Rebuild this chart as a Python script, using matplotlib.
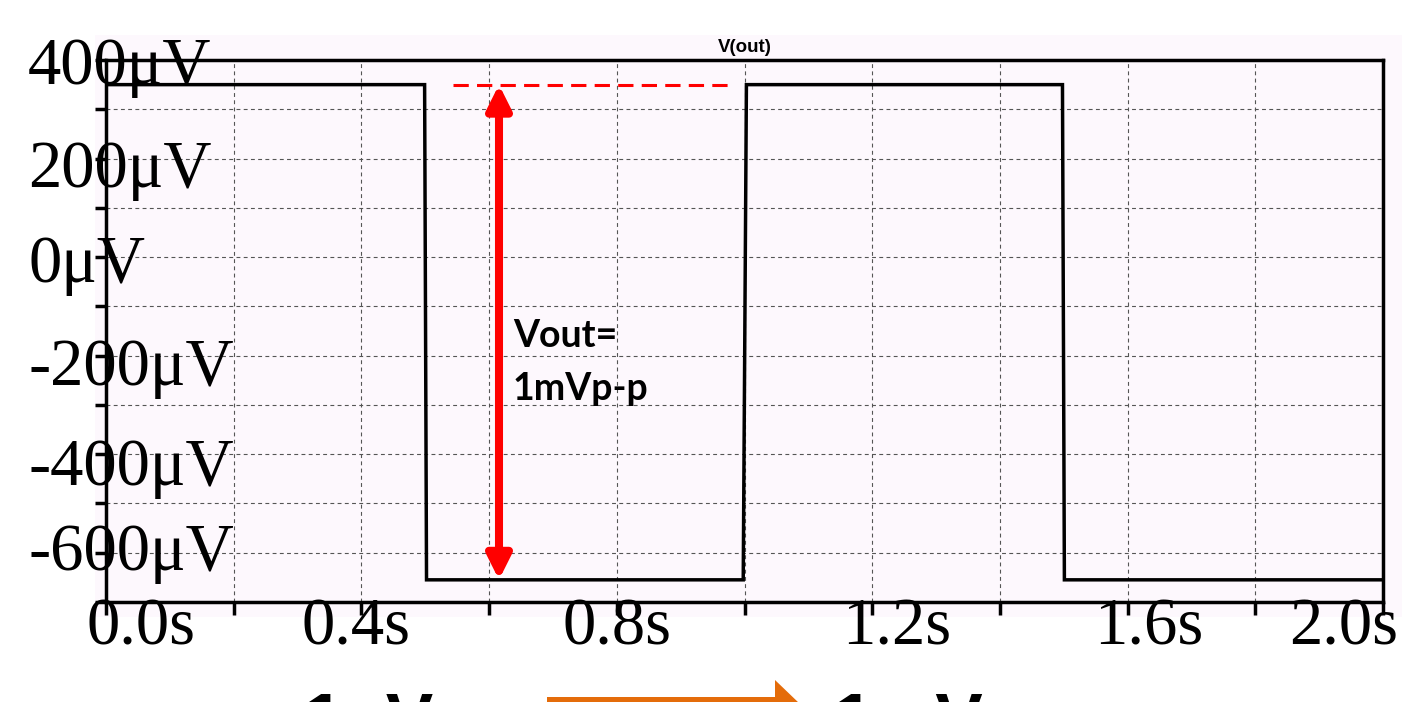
import matplotlib
matplotlib.use("Agg")
import matplotlib.pyplot as plt
from matplotlib.patches import Rectangle, Polygon, FancyArrowPatch, ArrowStyle
from matplotlib.transforms import ScaledTranslation
import numpy as np

# ---------------- data ----------------
time_s = [0.0, 0.499, 0.502, 0.998, 1.003, 1.498, 1.501, 2.0]
vout_uV = [350, 350, -655, -655, 350, 350, -655, -655]

xticks = [0.0, 0.4, 0.8, 1.2, 1.6, 2.0]
xtick_labels = ["0.0s", "0.4s", "0.8s", "1.2s", "1.6s", "2.0s"]
yticks = [400, 200, 0, -200, -400, -600]
ytick_labels = ["400\u03bcV", "200\u03bcV", "0\u03bcV", "-200\u03bcV", "-400\u03bcV", "-600\u03bcV"]

title = "V(out)"
annot_lines = ["Vout=", "1mVp-p"]
pp_high = 350
pp_low = -655
arrow_t = 0.6155
dash_t = [0.5435, 0.985]
bottom_left = "1\u03bcV"
bottom_right = "1mV"

# layout nudges of the overlaid tick labels (pixels; +x right, +y down)
xlabel_nudge = [-19, -5, 0, 24, 21, 15]
ylabel_nudge = [0, 5, 1, 6, 7, -6]

# ---------------- figure ----------------
W, H = 1406, 702
fig = plt.figure(figsize=(W / 100, H / 100), dpi=100)
fig.patch.set_facecolor("white")

def fx(px):
    return px / W

def fy(py):
    return 1 - py / H

pink = "#fdf8fd"
fig.patches.append(Rectangle((fx(95), fy(617)), fx(1402) - fx(95), fy(35) - fy(617),
                             transform=fig.transFigure, facecolor=pink, edgecolor="none", zorder=-5))

ax = fig.add_axes([fx(106), fy(602), fx(1383) - fx(106), fy(60) - fy(602)])
ax.set_facecolor(pink)
ax.set_xlim(0, 2.0)
ax.set_ylim(-700, 400)

lw = 2.5

# grid
for t in np.arange(0.2, 2.0, 0.2):
    ax.axvline(t, color="#555555", lw=0.8, linestyle=(0, (3.5, 3)), zorder=1)
for v in np.arange(-600, 400, 100):
    ax.axhline(v, color="#555555", lw=0.8, linestyle=(0, (3.5, 3)), zorder=1)

# signal
ax.plot(time_s, vout_uV, color="black", lw=lw, solid_joinstyle="miter", zorder=3)

# red annotation
ax.plot(dash_t, [pp_high, pp_high], color="red", lw=2.2, linestyle=(0, (5, 2.7)), zorder=4)
arr = FancyArrowPatch((arrow_t, pp_low), (arrow_t, pp_high),
                      arrowstyle=ArrowStyle("<|-|>", head_length=0.4, head_width=0.2),
                      mutation_scale=36, color="red", lw=5.8, shrinkA=0, shrinkB=0, zorder=5)
ax.add_patch(arr)

fig.text(fx(513), fy(347), annot_lines[0], fontsize=27, fontweight="bold",
         family="Lato", color="black", va="baseline", ha="left")
fig.text(fx(513), fy(400), annot_lines[1], fontsize=27, fontweight="bold",
         family="Lato", color="black", va="baseline", ha="left")

# title
ax.set_title(title, fontsize=13.5, fontweight="bold", family="Liberation Sans", pad=6)

# spines
for s in ax.spines.values():
    s.set_linewidth(lw)
    s.set_color("black")

# ticks
ax.set_xticks(xticks, xtick_labels)
ax.set_xticks(np.arange(0, 2.01, 0.2), minor=True)
ax.set_yticks(yticks, ytick_labels)
ax.set_yticks(np.arange(-700, 401, 100), minor=True)
ax.tick_params(axis="x", which="both", direction="out", length=9, width=lw, color="black")
ax.tick_params(axis="x", which="major", pad=-12.5, labelsize=48)
ax.tick_params(axis="y", which="both", direction="out", length=8, width=lw, color="black")
ax.tick_params(axis="y", which="major", pad=48, labelsize=48)
for lab in ax.get_xticklabels() + ax.get_yticklabels():
    lab.set_family("Liberation Serif")
for lab, dy in zip(ax.get_yticklabels(), ylabel_nudge):
    lab.set_horizontalalignment("left")
    lab.set_transform(lab.get_transform() + ScaledTranslation(0, -dy / 100, fig.dpi_scale_trans))
xl = ax.get_xticklabels()
xl[0].set_horizontalalignment("left")
xl[-1].set_horizontalalignment("right")
for lab, dx in zip(xl, xlabel_nudge):
    lab.set_transform(lab.get_transform() + ScaledTranslation(dx / 100, 0, fig.dpi_scale_trans))

# bottom caption (cut off at the lower edge, as in the reference)
fig.text(fx(303), fy(743), bottom_left, fontsize=51, fontweight="bold",
         family="Liberation Sans", va="baseline", ha="left")
fig.text(fx(833), fy(743), bottom_right, fontsize=51, fontweight="bold",
         family="Liberation Sans", va="baseline", ha="left")
orange = "#e46c0a"
pts = [(547, 697), (775, 697), (775, 680), (800, 704), (775, 728), (775, 711), (547, 711)]
fig.patches.append(Polygon([(fx(x), fy(y)) for x, y in pts], closed=True,
                           transform=fig.transFigure, facecolor=orange, edgecolor="none"))

fig.savefig("out.png", dpi=100)
